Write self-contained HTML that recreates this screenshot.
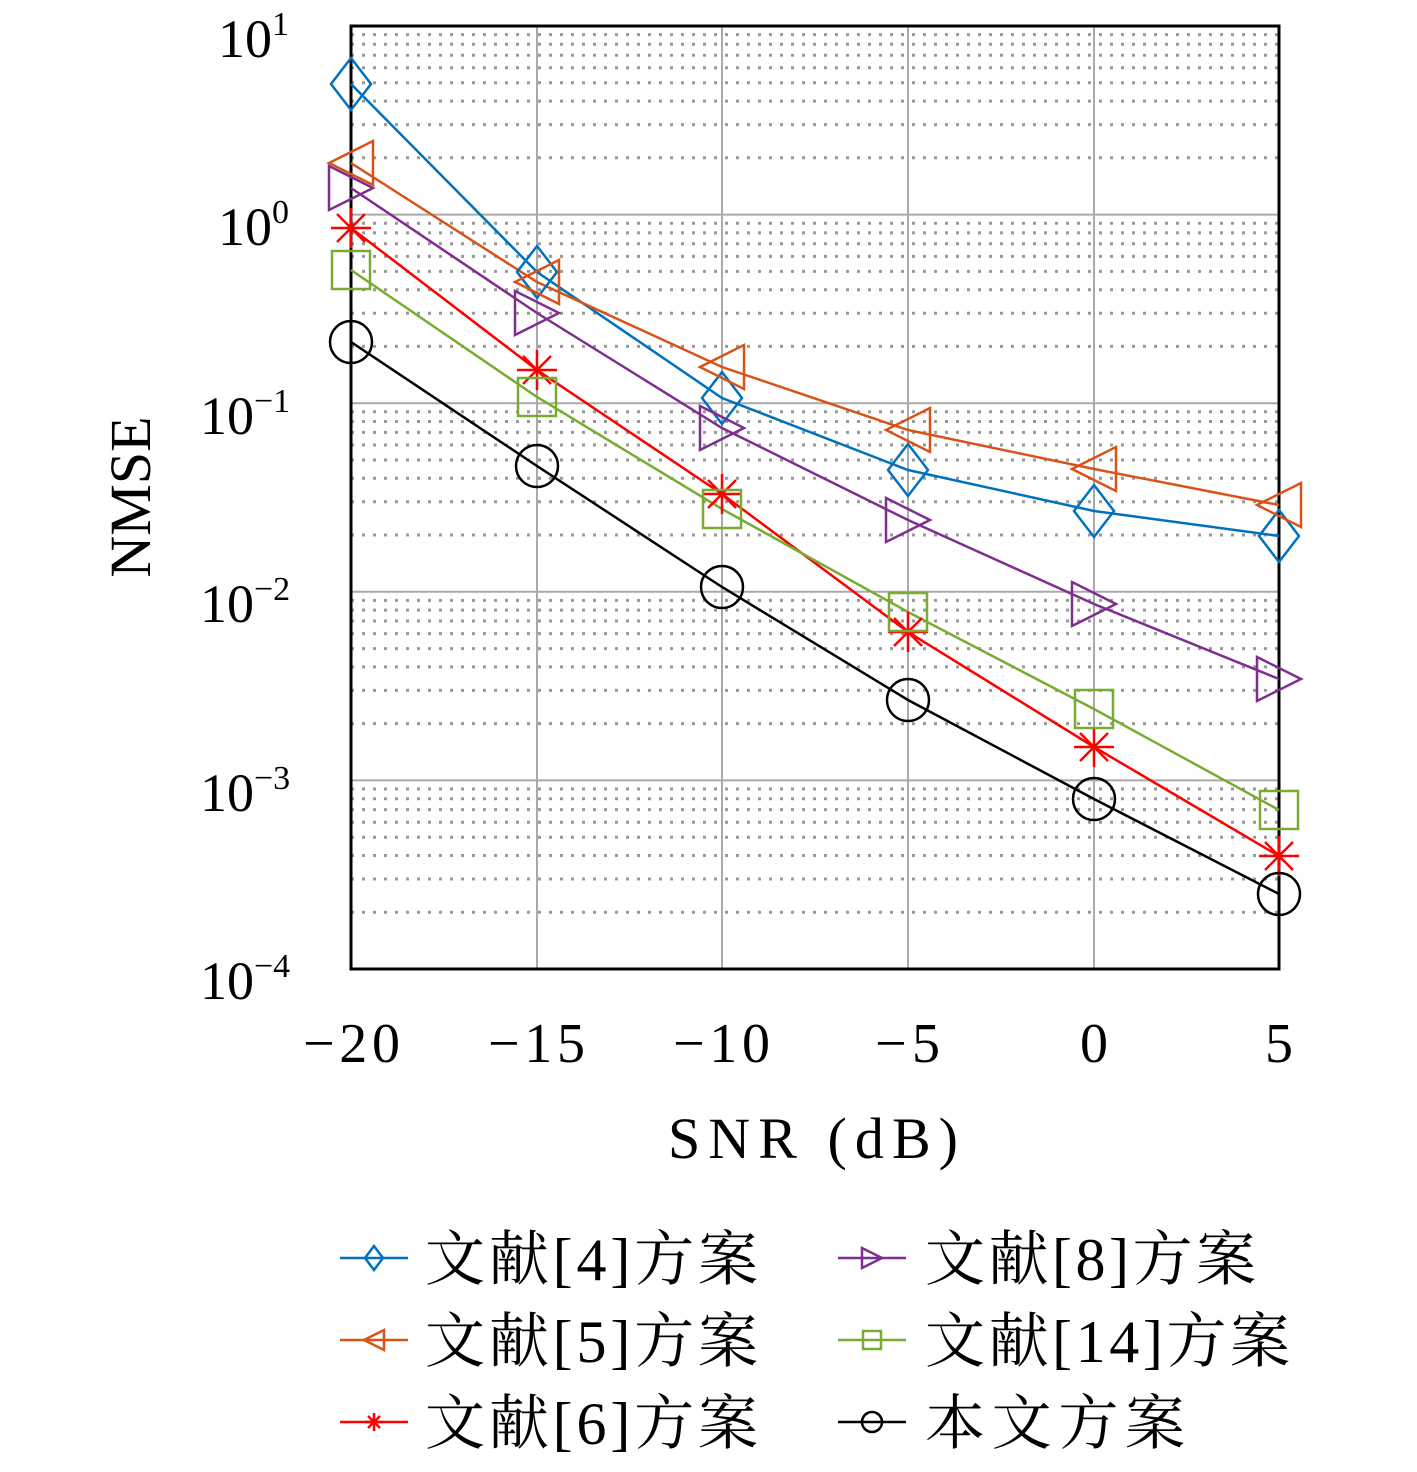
<!DOCTYPE html>
<html><head><meta charset="utf-8"><style>body{margin:0;background:#fff}</style></head><body>
<svg width="1417" height="1467" viewBox="0 0 1417 1467" xmlns="http://www.w3.org/2000/svg" font-family="'Liberation Serif','Noto Serif CJK SC',serif">
<defs>
<g id="dia"><polygon points="0,-26 20,0 0,26 -20,0" fill="none" stroke-width="2.5"/></g>
<g id="lt"><polygon points="-22,0 22,-22 22,22" fill="none" stroke-width="2.5"/></g>
<g id="rt"><polygon points="22,0 -22,-22 -22,22" fill="none" stroke-width="2.5"/></g>
<g id="sq"><rect x="-19" y="-19" width="38" height="38" fill="none" stroke-width="2.5"/></g>
<g id="ci"><circle r="21" fill="none" stroke-width="2.5"/></g>
<g id="st" stroke-width="2.5"><line x1="-20" y1="0" x2="20" y2="0"/><line x1="0" y1="-20" x2="0" y2="20"/><line x1="-14" y1="-14" x2="14" y2="14"/><line x1="-14" y1="14" x2="14" y2="-14"/></g>
</defs>
<g stroke="#999" stroke-width="3" stroke-dasharray="3,8">
<path d="M351 912.2H1279M351 879H1279M351 855.5H1279M351 837.2H1279M351 822.2H1279M351 809.6H1279M351 798.7H1279M351 789H1279
M351 723.6H1279M351 690.4H1279M351 666.9H1279M351 648.6H1279M351 633.6H1279M351 621H1279M351 610.1H1279M351 600.4H1279
M351 535H1279M351 501.8H1279M351 478.3H1279M351 460H1279M351 445H1279M351 432.4H1279M351 421.5H1279M351 411.8H1279
M351 346.4H1279M351 313.2H1279M351 289.7H1279M351 271.4H1279M351 256.4H1279M351 243.8H1279M351 232.9H1279M351 223.2H1279
M351 157.8H1279M351 124.6H1279M351 101.1H1279M351 82.8H1279M351 67.8H1279M351 55.2H1279M351 44.3H1279M351 34.6H1279"/>
</g>
<g stroke="#aaa" stroke-width="2">
<path d="M351 780.4H1279M351 591.8H1279M351 403.2H1279M351 214.6H1279M537 26V969M722 26V969M908 26V969M1094 26V969"/>
</g>
<rect x="351" y="26" width="928" height="943" fill="none" stroke="#000" stroke-width="3"/>
<g fill="none" stroke-width="2.5">
<polyline stroke="#0072BD" points="351,84 537,272 722,398 908,470 1094,511 1279,536"/>
<polyline stroke="#D95319" points="351,163 537,282 722,367 908,430 1094,469 1279,505"/>
<polyline stroke="#7E2F8E" points="351,188 537,313 722,428 908,520 1094,604 1279,679"/>
<polyline stroke="#FF0000" points="351,228 537,370 722,494 908,632 1094,747 1279,856"/>
<polyline stroke="#77AC30" points="351,270 537,397 722,509 908,612 1094,709 1279,810"/>
<polyline stroke="#000" points="351,342 537,466 722,587 908,700 1094,799 1279,894"/>
</g>
<g stroke="#0072BD"><use href="#dia" x="351" y="84"/><use href="#dia" x="537" y="272"/><use href="#dia" x="722" y="398"/><use href="#dia" x="908" y="470"/><use href="#dia" x="1094" y="511"/><use href="#dia" x="1279" y="536"/></g>
<g stroke="#D95319"><use href="#lt" x="351" y="163"/><use href="#lt" x="537" y="282"/><use href="#lt" x="722" y="367"/><use href="#lt" x="908" y="430"/><use href="#lt" x="1094" y="469"/><use href="#lt" x="1279" y="505"/></g>
<g stroke="#7E2F8E"><use href="#rt" x="351" y="188"/><use href="#rt" x="537" y="313"/><use href="#rt" x="722" y="428"/><use href="#rt" x="908" y="520"/><use href="#rt" x="1094" y="604"/><use href="#rt" x="1279" y="679"/></g>
<g stroke="#FF0000"><use href="#st" x="351" y="228"/><use href="#st" x="537" y="370"/><use href="#st" x="722" y="494"/><use href="#st" x="908" y="632"/><use href="#st" x="1094" y="747"/><use href="#st" x="1279" y="856"/></g>
<g stroke="#77AC30"><use href="#sq" x="351" y="270"/><use href="#sq" x="537" y="397"/><use href="#sq" x="722" y="509"/><use href="#sq" x="908" y="612"/><use href="#sq" x="1094" y="709"/><use href="#sq" x="1279" y="810"/></g>
<g stroke="#000"><use href="#ci" x="351" y="342"/><use href="#ci" x="537" y="466"/><use href="#ci" x="722" y="587"/><use href="#ci" x="908" y="700"/><use href="#ci" x="1094" y="799"/><use href="#ci" x="1279" y="894"/></g>
<g font-size="54" fill="#000">
<text x="218" y="57">10<tspan font-size="34" dy="-22">1</tspan></text>
<text x="218" y="245">10<tspan font-size="34" dy="-22">0</tspan></text>
<text x="200" y="434">10<tspan font-size="34" dy="-22">−1</tspan></text>
<text x="200" y="622">10<tspan font-size="34" dy="-22">−2</tspan></text>
<text x="200" y="811">10<tspan font-size="34" dy="-22">−3</tspan></text>
<text x="200" y="999">10<tspan font-size="34" dy="-22">−4</tspan></text>
</g>
<g font-size="56">
<text x="303" y="1062" textLength="97">−20</text><text x="488" y="1062" textLength="97">−15</text><text x="673" y="1062" textLength="97">−10</text><text x="875" y="1062" textLength="65">−5</text><text x="1094" y="1062" text-anchor="middle">0</text><text x="1279" y="1062" text-anchor="middle">5</text>
</g>
<text x="668" y="1158" font-size="58" textLength="290">SNR (dB)</text>
<text transform="translate(150,497) rotate(-90)" font-size="58" text-anchor="middle">NMSE</text>
<g stroke-width="2.5" fill="none">
<line x1="340" y1="1258" x2="408" y2="1258" stroke="#0072BD"/><polygon points="374,1246 383,1258 374,1270 365,1258" stroke="#0072BD"/>
<line x1="340" y1="1340" x2="408" y2="1340" stroke="#D95319"/><polygon points="364,1340 384,1330 384,1350" stroke="#D95319"/>
<line x1="340" y1="1422" x2="408" y2="1422" stroke="#FF0000"/><g stroke="#FF0000"><line x1="365" y1="1422" x2="383" y2="1422"/><line x1="374" y1="1413" x2="374" y2="1431"/><line x1="368" y1="1416" x2="380" y2="1428"/><line x1="368" y1="1428" x2="380" y2="1416"/></g>
<line x1="838" y1="1258" x2="906" y2="1258" stroke="#7E2F8E"/><polygon points="882,1258 862,1248 862,1268" stroke="#7E2F8E"/>
<line x1="838" y1="1340" x2="906" y2="1340" stroke="#77AC30"/><rect x="863" y="1331" width="18" height="18" stroke="#77AC30"/>
<line x1="838" y1="1422" x2="906" y2="1422" stroke="#000"/><circle cx="872" cy="1422" r="10" stroke="#000"/>
</g>
<g font-size="60">
<text x="425" y="1280" textLength="333">文献[4]方案</text>
<text x="425" y="1362" textLength="333">文献[5]方案</text>
<text x="425" y="1444" textLength="333">文献[6]方案</text>
<text x="925" y="1280" textLength="331">文献[8]方案</text>
<text x="925" y="1362" textLength="365">文献[14]方案</text>
<text x="925" y="1444" textLength="260">本文方案</text>
</g>
</svg>
</body></html>
